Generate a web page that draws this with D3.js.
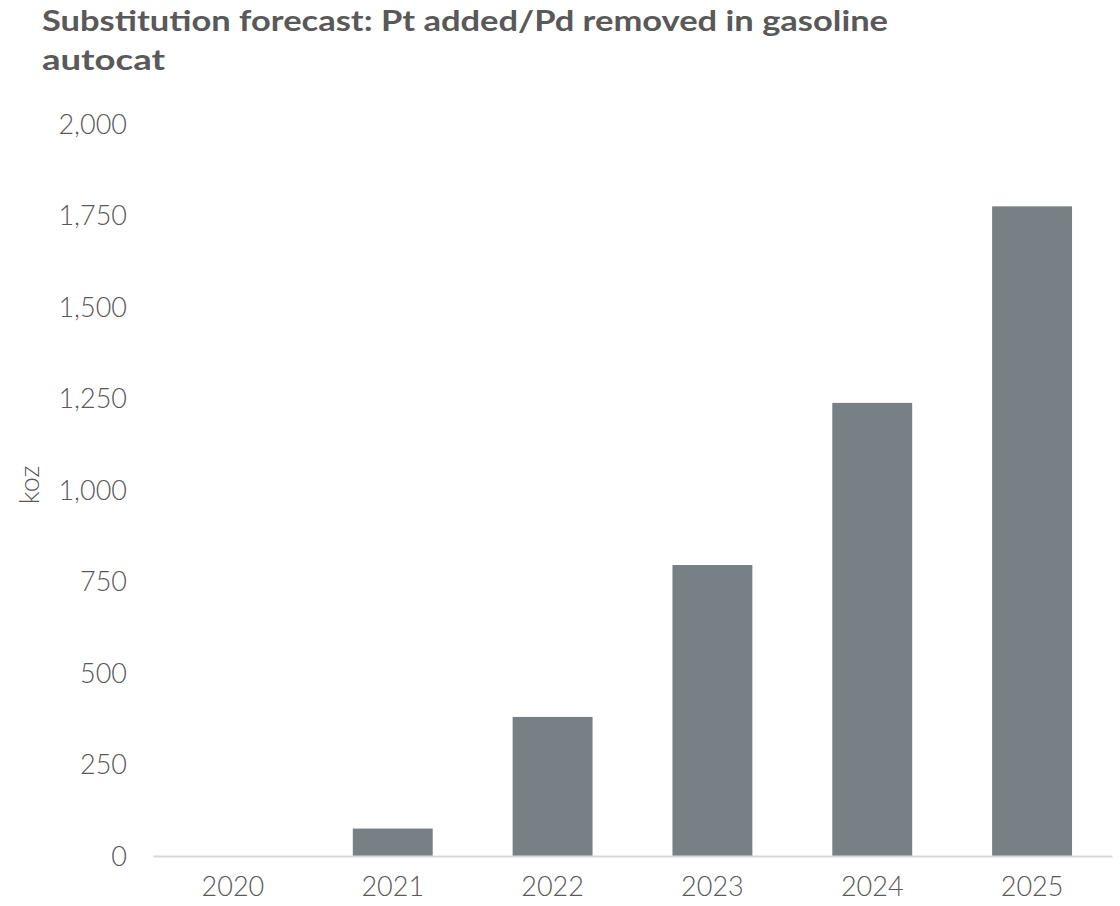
<!DOCTYPE html>
<html>
<head>
<meta charset="utf-8">
<script src="https://cdn.jsdelivr.net/npm/d3@7/dist/d3.min.js"></script>
<style>
  html, body { margin: 0; padding: 0; background: #ffffff; }
  svg { display: block; }
  text { font-family: "Century Gothic", "Lato", "Open Sans", sans-serif; }
</style>
</head>
<body>
<svg id="chart" width="1120" height="906"></svg>
<script>
// Gasoline autocat substitution forecast (koz)
const years = ["2020", "2021", "2022", "2023", "2024", "2025"];
const substitution = [0, 75, 380, 795, 1238, 1775];
const yTicks = [0, 250, 500, 750, 1000, 1250, 1500, 1750, 2000];
const titleLines = ["Substitution forecast: Pt added/Pd removed in gasoline", "autocat"];
const yAxisTitle = "koz";

const svg = d3.select("#chart");
const textColor = "#595959";

const plot = { left: 153, right: 1112, top: 124, bottom: 856 };

const x = d3.scaleBand()
  .domain(years)
  .range([plot.left, plot.right])
  .paddingInner(0.5)
  .paddingOuter(0.25);

const y = d3.scaleLinear()
  .domain([0, 2000])
  .range([plot.bottom, plot.top]);

// Title
const title = svg.append("g");
title.append("text")
  .attr("x", 42).attr("y", 31)
  .attr("fill", textColor)
  .attr("font-size", 29).attr("font-weight", "bold")
  .attr("textLength", 846).attr("lengthAdjust", "spacingAndGlyphs")
  .text(titleLines[0]);
title.append("text")
  .attr("x", 42).attr("y", 70)
  .attr("fill", textColor)
  .attr("font-size", 29).attr("font-weight", "bold")
  .attr("textLength", 123).attr("lengthAdjust", "spacingAndGlyphs")
  .text(titleLines[1]);

// Bars
svg.append("g")
  .selectAll("rect")
  .data(years.map((yr, i) => ({ yr, v: substitution[i] })))
  .join("rect")
  .attr("x", d => x(d.yr))
  .attr("width", x.bandwidth())
  .attr("y", d => y(d.v))
  .attr("height", d => y(0) - y(d.v))
  .attr("fill", "#778085");

// Y axis (labels only)
const yAxis = d3.axisLeft(y)
  .tickValues(yTicks)
  .tickSize(0)
  .tickPadding(0)
  .tickFormat(d3.format(","));
const yg = svg.append("g")
  .attr("transform", `translate(127,0)`)
  .call(yAxis);
yg.select(".domain").remove();
yg.selectAll("text")
  .attr("fill", textColor)
  .attr("font-size", 27)
  .attr("font-weight", 300)
  .attr("dy", "0.35em");

// X axis
const xAxis = d3.axisBottom(x).tickSize(0).tickPadding(0);
const xg = svg.append("g")
  .attr("transform", `translate(0,${plot.bottom})`)
  .call(xAxis);
xg.select(".domain")
  .attr("stroke", "#d9d9d9")
  .attr("stroke-width", 2);
xg.selectAll("text")
  .attr("fill", textColor)
  .attr("font-size", 27)
  .attr("font-weight", 300)
  .attr("dy", 0)
  .attr("y", 40);

// Y axis title
svg.append("text")
  .attr("transform", "translate(39,485) rotate(-90)")
  .attr("text-anchor", "middle")
  .attr("fill", textColor)
  .attr("font-size", 27)
  .attr("font-weight", 300)
  .text(yAxisTitle);
</script>
</body>
</html>
